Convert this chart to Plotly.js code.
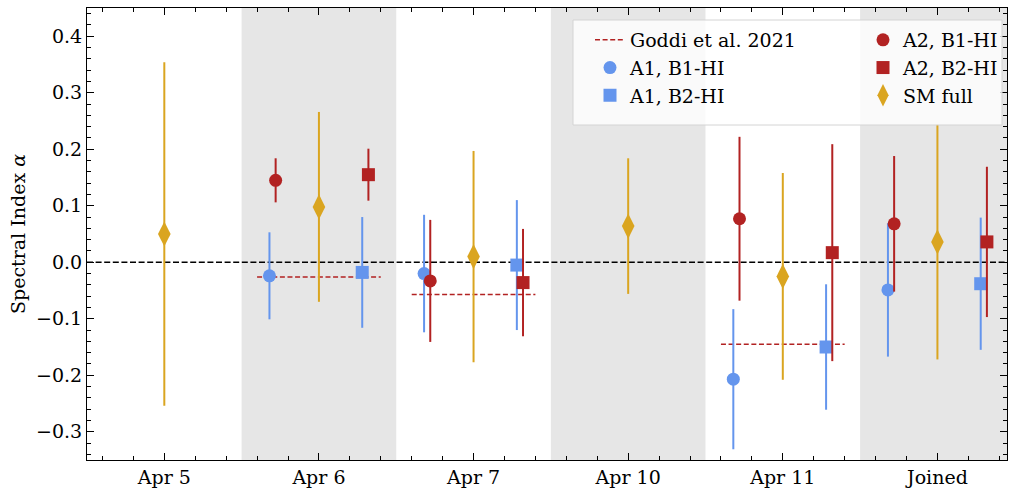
<!DOCTYPE html>
<html>
<head>
<meta charset="utf-8">
<script src="https://cdn.plot.ly/plotly-3.0.1.min.js"></script>
<style>html,body{margin:0;padding:0;background:#fff;}#chart{width:1009px;height:489px;}</style>
</head>
<body>
<div id="chart"></div>
<script>
// Categories (x positions 0..5)
const categories = ["Apr 5", "Apr 6", "Apr 7", "Apr 10", "Apr 11", "Joined"];

// A1, B1-HI
const a1b1Days = [1, 2, 4, 5];
const a1b1Vals = [-0.024, -0.020, -0.207, -0.049];
const a1b1Errs = [0.077, 0.104, 0.124, 0.118];

// A1, B2-HI
const a1b2Days = [1, 2, 4, 5];
const a1b2Vals = [-0.018, -0.005, -0.150, -0.038];
const a1b2Errs = [0.098, 0.115, 0.111, 0.117];

// A2, B1-HI
const a2b1Days = [1, 2, 4, 5];
const a2b1Vals = [0.145, -0.033, 0.077, 0.068];
const a2b1Errs = [0.039, 0.108, 0.145, 0.120];

// A2, B2-HI
const a2b2Days = [1, 2, 4, 5];
const a2b2Vals = [0.155, -0.036, 0.017, 0.036];
const a2b2Errs = [0.046, 0.095, 0.192, 0.133];

// SM full
const smDays = [0, 1, 2, 3, 4, 5];
const smVals = [0.050, 0.098, 0.010, 0.064, -0.025, 0.036];
const smErrs = [0.304, 0.168, 0.187, 0.120, 0.183, 0.208];

// Goddi et al. 2021
const goddiDays = [1, 2, 4];
const goddiVals = [-0.026, -0.057, -0.145];

// styling / layout offsets
const off = {a1b1: -0.32, a2b1: -0.28, a1b2: 0.28, a2b2: 0.32};
const goddiHalf = 0.4;
const BLUE = "#6495ED", RED = "#B22222", GOLD = "#DAA520";
const FONT = "DejaVu Serif, Liberation Serif, serif";
const FS = 19;

function shift(days, o) { return days.map(d => d + o); }
function eb(arr, color) {
  return {type: "data", array: arr, visible: true, thickness: 2, width: 0, color: color};
}

const gx = [], gy = [];
goddiDays.forEach((d, i) => {
  gx.push(d - goddiHalf, d + goddiHalf, null);
  gy.push(goddiVals[i], goddiVals[i], null);
});

const goddi = {x: gx, y: gy, mode: "lines", name: "Goddi et al. 2021", legend: "legend", legendgroup: "g1", legendrank: 1,
   line: {color: RED, dash: "5px,2.6px", width: 1.5}};
const a1b1 = {x: shift(a1b1Days, off.a1b1), y: a1b1Vals, error_y: eb(a1b1Errs, BLUE), mode: "markers",
   name: "A1, B1-HI", legend: "legend", legendgroup: "g2", legendrank: 2, marker: {symbol: "circle", size: 13, color: BLUE}};
const a1b2 = {x: shift(a1b2Days, off.a1b2), y: a1b2Vals, error_y: eb(a1b2Errs, BLUE), mode: "markers",
   name: "A1, B2-HI", legend: "legend", legendgroup: "g3", legendrank: 3, marker: {symbol: "square", size: 13, color: BLUE}};
const a2b1 = {x: shift(a2b1Days, off.a2b1), y: a2b1Vals, error_y: eb(a2b1Errs, RED), mode: "markers",
   name: "A2, B1-HI", legend: "legend2", legendgroup: "g4", legendrank: 1, marker: {symbol: "circle", size: 13, color: RED}};
const a2b2 = {x: shift(a2b2Days, off.a2b2), y: a2b2Vals, error_y: eb(a2b2Errs, RED), mode: "markers",
   name: "A2, B2-HI", legend: "legend2", legendgroup: "g5", legendrank: 2, marker: {symbol: "square", size: 13, color: RED}};
const sm = {x: smDays, y: smVals, error_y: eb(smErrs, GOLD), mode: "markers",
   name: "SM full", legend: "legend2", legendgroup: "g6", legendrank: 3, marker: {symbol: "diamond-tall", size: 18, color: GOLD}};

const data = [goddi, a1b1, a1b2, a2b1, a2b2, sm];

const shapes = [];
categories.forEach((c, i) => {
  if (i % 2 === 1) {
    shapes.push({type: "rect", xref: "x", yref: "paper", x0: i - 0.5, x1: i + 0.5, y0: 0, y1: 1,
      fillcolor: "#e6e6e6", line: {width: 0}, layer: "below"});
  }
});
shapes.push({type: "line", xref: "paper", yref: "y", x0: 0, x1: 1, y0: 0, y1: 0,
  line: {color: "#000", width: 1.5, dash: "6px,2.6px"}, layer: "below"});
// legend frame (matplotlib-style box behind both legend columns)
const W = 1009, H = 489, ML = 87, MR = 2, MT = 8, MB = 29;
const pw = W - ML - MR, ph = H - MT - MB;
const px2x = p => (p - ML) / pw, px2y = p => (H - MB - p) / ph;
shapes.push({type: "rect", xref: "paper", yref: "paper", x0: px2x(573), x1: px2x(1002), y0: px2y(125), y1: px2y(20),
  fillcolor: "rgba(255,255,255,0.8)", line: {color: "#d4d4d4", width: 1}, layer: "above"});

const legBase = {bgcolor: "rgba(0,0,0,0)", borderwidth: 0, font: {family: FONT, size: FS},
  yanchor: "top", xanchor: "left", traceorder: "normal", tracegroupgap: 8, itemsizing: "trace"};

const layout = {
  width: W, height: H,
  margin: {l: ML, r: MR, t: MT, b: MB},
  paper_bgcolor: "#fff", plot_bgcolor: "#fff",
  font: {family: FONT, size: FS, color: "#000"},
  showlegend: true,
  legend: Object.assign({}, legBase, {x: px2x(590), y: px2y(21)}),
  legend2: Object.assign({}, legBase, {x: px2x(863), y: px2y(21)}),
  xaxis: {
    range: [-0.5, 5.45], tickvals: categories.map((c, i) => i), ticktext: categories,
    showgrid: false, zeroline: false, showline: true, linecolor: "#000", linewidth: 1,
    mirror: "allticks", ticks: "inside", ticklen: 7, tickwidth: 1, tickcolor: "#000",
    tickfont: {family: FONT, size: FS},
    minor: {tick0: 0, dtick: 0.2, ticks: "inside", ticklen: 4, tickcolor: "#000", tickwidth: 1}
  },
  yaxis: {
    range: [-0.35, 0.45], tickvals: [-0.3, -0.2, -0.1, 0, 0.1, 0.2, 0.3, 0.4], tickformat: ".1f",
    showgrid: false, zeroline: false, showline: true, linecolor: "#000", linewidth: 1,
    mirror: "allticks", ticks: "inside", ticklen: 7, tickwidth: 1, tickcolor: "#000",
    tickfont: {family: FONT, size: FS},
    minor: {tick0: 0, dtick: 0.02, ticks: "inside", ticklen: 4, tickcolor: "#000", tickwidth: 1},
    title: {text: "Spectral Index <i>α</i>", font: {family: FONT, size: FS}, standoff: 5}
  },
  shapes: shapes
};

Plotly.newPlot("chart", data, layout, {staticPlot: true, displayModeBar: false});
</script>
</body>
</html>
